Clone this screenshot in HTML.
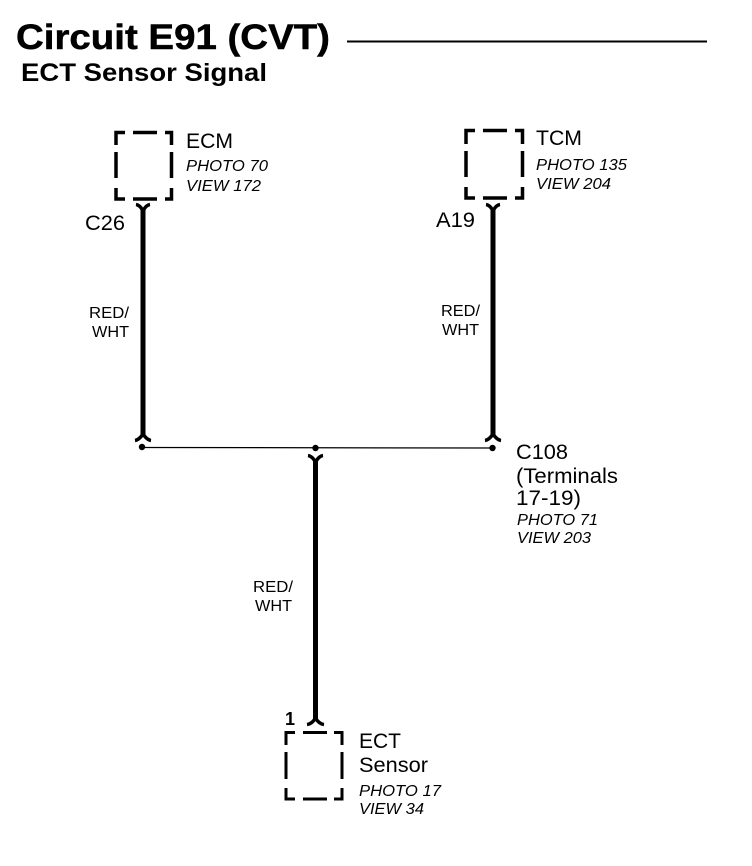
<!DOCTYPE html>
<html><head><meta charset="utf-8">
<style>
html,body{margin:0;padding:0;background:#fff}
svg{display:block}
text{font-family:"Liberation Sans",Arial,sans-serif;fill:#000}
.i{font-style:italic;font-size:15.5px}
.n{font-size:21px}
.w{font-size:15.5px}
</style></head>
<body>
<svg width="752" height="866" viewBox="0 0 752 866" xmlns="http://www.w3.org/2000/svg">
<rect width="752" height="866" fill="#fff"/>
<text x="16" y="49" font-size="35" font-weight="bold" stroke="#000" stroke-width="0.5" textLength="314" lengthAdjust="spacingAndGlyphs">Circuit E91 (CVT)</text>
<text x="21" y="81" font-size="25" font-weight="bold" textLength="246" lengthAdjust="spacingAndGlyphs">ECT Sensor Signal</text>
<line x1="347" y1="41.5" x2="707" y2="41.5" stroke="#000" stroke-width="2"/>

<g fill="none" stroke="#000" stroke-width="3.5">
<path d="M116 145V132.500H125M133 132.500H157M165 132.500H171.500V145M116 152V178M171.500 152V178M116 188V199H125M133 199H157M165 199H171.500V188"/>
<path d="M466 144V130.500H475M483 130.500H507M515 130.500H522.500V144M466 151V177M522.500 151V177M466 187V198H475M483 198H507M515 198H522.500V187"/>
<path d="M286 745V732.500H295M303 732.500H327M334 732.500H342V745M286 752V779M342 752V779M286 788V799H295M303 799H327M334 799H342V788" stroke-width="3"/>
</g>

<g fill="none" stroke="#000" stroke-width="5">
<line x1="143" y1="209" x2="143" y2="436"/>
<line x1="493" y1="209" x2="493" y2="436"/>
<line x1="315.500" y1="460" x2="315.500" y2="720"/>
</g>
<g fill="none" stroke="#000" stroke-width="3.5">
<path d="M136 204.500Q140 205 143 211Q146 205 150 204.500"/>
<path d="M486 204.500Q490 205 493 211Q496 205 500 204.500"/>
<path d="M135 440.500Q139 440 143 434Q147 440 151 440.500"/>
<path d="M485 440.500Q489 440 493 434Q497 440 501 440.500"/>
<path d="M308 455.500Q312 456 315.500 462Q319 456 323 455.500"/>
<path d="M307 724.500Q312 724 315.500 718Q319 724 324 724.500"/>
</g>

<line x1="142" y1="447.500" x2="492" y2="448" stroke="#000" stroke-width="1.200"/>
<circle cx="142" cy="447" r="3.200" fill="#000"/>
<circle cx="315.500" cy="448" r="3.200" fill="#000"/>
<circle cx="492.500" cy="448" r="3.200" fill="#000"/>

<text class="n" x="186" y="148" textLength="47" lengthAdjust="spacingAndGlyphs">ECM</text>
<text class="i" x="186" y="171" textLength="82" lengthAdjust="spacingAndGlyphs">PHOTO 70</text>
<text class="i" x="186" y="191" textLength="75" lengthAdjust="spacingAndGlyphs">VIEW 172</text>
<text class="n" x="85" y="230" textLength="40" lengthAdjust="spacingAndGlyphs">C26</text>

<text class="n" x="536" y="145" textLength="46" lengthAdjust="spacingAndGlyphs">TCM</text>
<text class="i" x="536" y="170" textLength="91" lengthAdjust="spacingAndGlyphs">PHOTO 135</text>
<text class="i" x="536" y="189" textLength="75" lengthAdjust="spacingAndGlyphs">VIEW 204</text>
<text class="n" x="436" y="227" textLength="39" lengthAdjust="spacingAndGlyphs">A19</text>

<text class="w" x="89" y="318" textLength="40" lengthAdjust="spacingAndGlyphs">RED/</text>
<text class="w" x="92" y="337" textLength="37" lengthAdjust="spacingAndGlyphs">WHT</text>
<text class="w" x="441" y="316" textLength="39" lengthAdjust="spacingAndGlyphs">RED/</text>
<text class="w" x="442" y="335" textLength="37" lengthAdjust="spacingAndGlyphs">WHT</text>
<text class="w" x="253" y="592" textLength="40" lengthAdjust="spacingAndGlyphs">RED/</text>
<text class="w" x="255" y="611" textLength="37" lengthAdjust="spacingAndGlyphs">WHT</text>

<text class="n" x="516" y="459" textLength="52" lengthAdjust="spacingAndGlyphs">C108</text>
<text class="n" x="516" y="483" textLength="102" lengthAdjust="spacingAndGlyphs">(Terminals</text>
<text class="n" x="516" y="505" textLength="65" lengthAdjust="spacingAndGlyphs">17-19)</text>
<text class="i" x="517" y="525" textLength="81" lengthAdjust="spacingAndGlyphs">PHOTO 71</text>
<text class="i" x="517" y="543" textLength="74" lengthAdjust="spacingAndGlyphs">VIEW 203</text>

<text x="285" y="725" font-size="18" font-weight="bold">1</text>
<text class="n" x="359" y="748" textLength="42" lengthAdjust="spacingAndGlyphs">ECT</text>
<text class="n" x="359" y="772" textLength="69" lengthAdjust="spacingAndGlyphs">Sensor</text>
<text class="i" x="359" y="796" textLength="82" lengthAdjust="spacingAndGlyphs">PHOTO 17</text>
<text class="i" x="359" y="814" textLength="65" lengthAdjust="spacingAndGlyphs">VIEW 34</text>
</svg>
</body></html>
